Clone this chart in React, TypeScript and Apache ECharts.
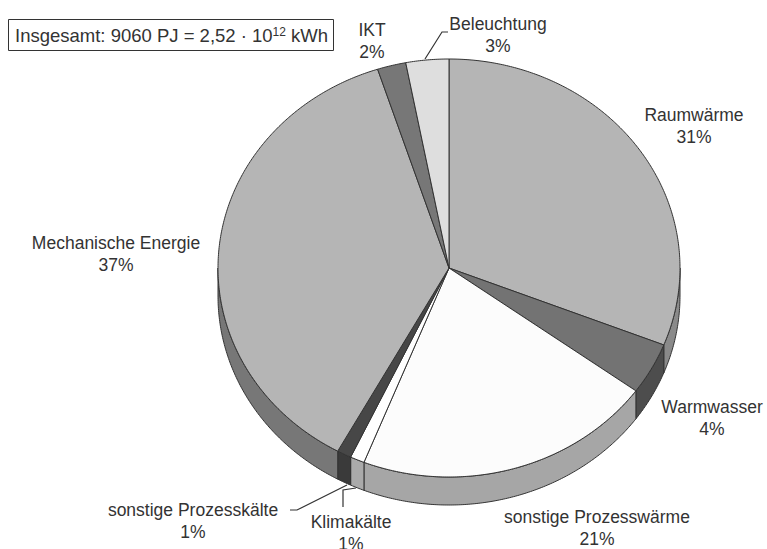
import { useEffect, useRef } from "react";
import * as echarts from "echarts";

// Endenergieverbrauch nach Anwendungen (Anteile in %)
const categories = [
  "Raumwärme",
  "Warmwasser",
  "sonstige Prozesswärme",
  "Klimakälte",
  "sonstige Prozesskälte",
  "Mechanische Energie",
  "IKT",
  "Beleuchtung",
];
const shares = [31, 4, 21, 1, 1, 37, 2, 3];
const topColors = ["#b5b5b5", "#737373", "#fcfcfc", "#ffffff", "#474747", "#b5b5b5", "#777777", "#dedede"];
const sideColors = ["#8a8a8a", "#4d4d4d", "#a6a6a6", "#aaaaaa", "#3a3a3a", "#777777", "#555555", "#aaaaaa"];
const totalParts = ["Insgesamt: 9060 PJ = 2,52 · 10", "12", " kWh"];

// geometry of the tilted disc
const CX = 449;
const CY = 268;
const RX = 231;
const RY = 209;
const DEPTH = 28;
const TEXT = "#333333";
const FONT = "Liberation Sans, Arial, sans-serif";

// label anchors (centre of the two-line label) and leader lines
const labelPos: number[][] = [
  [694, 126],
  [712, 418],
  [597, 528],
  [351, 533],
  [193, 521],
  [116, 254],
  [372, 41],
  [498, 35],
];
const leaders: number[][][] = [
  [[425, 59], [442, 32], [448, 32]],
  [[290, 510], [297, 510], [347, 485]],
  [[343, 507], [343, 490], [356, 488]],
];

const total = shares.reduce((a, b) => a + b, 0);
const angles: number[][] = [];
{
  let acc = 0;
  for (const v of shares) {
    const a0 = (acc / total) * 360;
    acc += v;
    angles.push([a0, (acc / total) * 360]);
  }
}

// theta measured clockwise from 12 o'clock
function pt(theta: number, dy = 0): number[] {
  const r = (theta * Math.PI) / 180;
  return [CX + RX * Math.sin(r), CY - RY * Math.cos(r) + dy];
}

function arc(a0: number, a1: number, dy: number): number[][] {
  const n = Math.max(2, Math.ceil(Math.abs(a1 - a0) / 0.5) + 1);
  const pts: number[][] = [];
  for (let k = 0; k < n; k++) pts.push(pt(a0 + ((a1 - a0) * k) / (n - 1), dy));
  return pts;
}

export default function App() {
  const ref = useRef<HTMLDivElement>(null);

  useEffect(() => {
    if (!ref.current) return;
    const chart = echarts.init(ref.current, undefined, { renderer: "svg" });

    const data = shares.map((v, i) => [i, v]);

    const graphics: any[] = [
      {
        type: "rect",
        shape: { x: 8.5, y: 19.5, width: 325, height: 31 },
        style: { fill: "#fff", stroke: "#333", lineWidth: 1 },
      },
      {
        type: "text",
        x: 15,
        y: 35,
        style: {
          text: `{a|${totalParts[0]}}{s|${totalParts[1]}}{a|${totalParts[2]}}`,
          verticalAlign: "middle",
          rich: {
            a: { fontSize: 18.5, fontFamily: FONT, fill: TEXT, color: TEXT },
            s: { fontSize: 12, fontFamily: FONT, fill: TEXT, color: TEXT, verticalAlign: "top", padding: [0, 0, 7, 0] },
          },
        },
      },
      ...categories.map((c, i) => ({
        type: "text",
        x: labelPos[i][0],
        y: labelPos[i][1],
        style: {
          text: `${c}\n${shares[i]}%`,
          align: "center",
          verticalAlign: "middle",
          fontSize: 17.5,
          lineHeight: 22.5,
          fontFamily: FONT,
          fill: TEXT,
        },
      })),
      ...leaders.map((p) => ({
        type: "polyline",
        shape: { points: p },
        style: { stroke: "#333", lineWidth: 1.2, fill: "none" },
      })),
    ];

    chart.setOption({
      animation: false,
      backgroundColor: "#fff",
      series: [
        {
          type: "custom",
          coordinateSystem: "none",
          data,
          silent: true,
          renderItem: (params: any) => {
            const i = params.dataIndex;
            const [a0, a1] = angles[i];
            const s = Math.max(a0, 90);
            const e = Math.min(a1, 270);
            if (e <= s) return { type: "group", children: [] };
            const points = arc(s, e, 0).concat(arc(e, s, DEPTH));
            return {
              type: "polygon",
              shape: { points },
              style: { fill: sideColors[i], stroke: "#333", lineWidth: 1, lineJoin: "round" },
            };
          },
        },
        {
          type: "custom",
          coordinateSystem: "none",
          data,
          silent: true,
          renderItem: (params: any) => {
            const i = params.dataIndex;
            const [a0, a1] = angles[i];
            const points = [[CX, CY]].concat(arc(a0, a1, 0));
            return {
              type: "polygon",
              shape: { points },
              style: { fill: topColors[i], stroke: "#333", lineWidth: 1, lineJoin: "round" },
            };
          },
        },
      ],
      graphic: graphics,
    });

    return () => chart.dispose();
  }, []);

  return (
    <div
      ref={ref}
      style={{ position: "absolute", left: 0, top: 0, width: 767, height: 549 }}
    />
  );
}
